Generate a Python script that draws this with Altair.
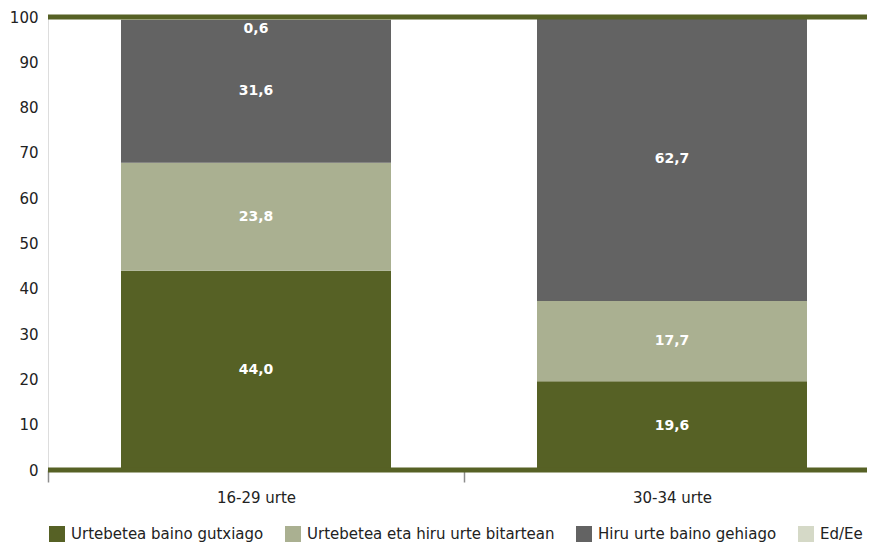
import altair as alt
import pandas as pd

groups = ["16-29 urte", "30-34 urte"]
series = ["Urtebetea baino gutxiago", "Urtebetea eta hiru urte bitartean",
          "Hiru urte baino gehiago", "Ed/Ee"]
colors = ["#566125", "#aab091", "#636363", "#d5d9c7"]
values_16_29 = [44.0, 23.8, 31.6, 0.6]
values_30_34 = [19.6, 17.7, 62.7, 0.0]
ref_lines = [0, 100]
y_ticks = list(range(0, 101, 10))

rows = []
for g, vals in zip(groups, [values_16_29, values_30_34]):
    cum = 0.0
    for i, (s, v) in enumerate(zip(series, vals)):
        rows.append(dict(group=g, serie=s, value=v, ord=i, mid=cum + v / 2,
                         label=f"{v:.1f}".replace(".", ","), small=bool(v < 2)))
        cum += v
df = pd.DataFrame(rows)
lines_df = pd.DataFrame({"y": ref_lines})

OLIVE = "#566125"
FONT = "DejaVu Sans"

x_enc = alt.X("group:N", sort=groups, title=None,
              scale=alt.Scale(paddingInner=0, paddingOuter=0),
              axis=alt.Axis(labelAngle=0, domain=False, tickBand="extent",
                            tickColor="#8c8c8c", tickSize=12, tickWidth=1.5,
                            labelFontSize=15, labelColor="#222222",
                            labelPadding=8, labelFont=FONT))
y_scale = alt.Scale(domain=[0, 100], nice=False)

bars = alt.Chart(df).mark_bar(size=270).encode(
    x=x_enc,
    y=alt.Y("value:Q", stack="zero", scale=y_scale, title=None,
            axis=alt.Axis(values=y_ticks, domain=False, ticks=False, grid=False,
                          labelFontSize=15, labelColor="#222222", labelPadding=10,
                          labelFont=FONT)),
    color=alt.Color("serie:N", sort=series,
                    scale=alt.Scale(domain=series, range=colors),
                    legend=alt.Legend(title=None, orient="none", direction="horizontal",
                                      legendX=1, legendY=509, symbolType="square",
                                      symbolSize=256, symbolStrokeWidth=0,
                                      labelFontSize=15, labelColor="#222222",
                                      labelFont=FONT, labelOffset=6, labelLimit=0,
                                      columnPadding=21, padding=0, columns=4)),
    order=alt.Order("ord:Q", sort="ascending"),
)

labels = alt.Chart(df).transform_filter(
    (alt.datum.value > 0) & (alt.datum.small == False)
).mark_text(color="white", fontWeight="bold", fontSize=14, font=FONT).encode(
    x=alt.X("group:N", sort=groups),
    y=alt.Y("mid:Q", scale=y_scale),
    text="label:N",
)

small_labels = alt.Chart(df).transform_filter(
    (alt.datum.value > 0) & (alt.datum.small == True)
).mark_text(color="white", fontWeight="bold", fontSize=14, font=FONT, dy=11).encode(
    x=alt.X("group:N", sort=groups),
    y=alt.Y("mid:Q", scale=y_scale),
    text="label:N",
)

rules = alt.Chart(lines_df).mark_rule(color=OLIVE, strokeWidth=5).encode(
    y=alt.Y("y:Q", scale=y_scale)
)

chart = alt.layer(bars, labels, small_labels, rules).properties(
    width=832, height=453,
    autosize=alt.AutoSizeParams(type="none"),
    padding={"left": 40, "top": 9, "right": -13, "bottom": 72},
).configure_view(stroke=None).configure(font=FONT)

chart.save("out.html", embed_options={"renderer": "svg", "actions": False})
